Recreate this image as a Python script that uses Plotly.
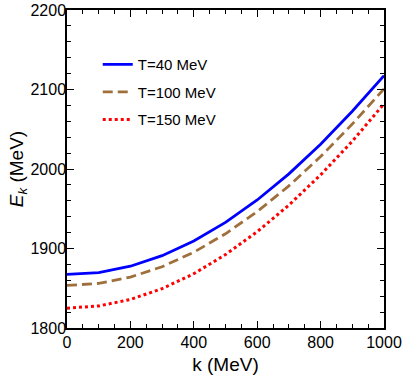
import plotly.graph_objects as go

k_vals = [0, 100, 200, 300, 400, 500, 600, 700, 800, 900, 1000]
E_T40 = [1867.5, 1869.7, 1877.7, 1891.0, 1909.4, 1932.8, 1961.0, 1993.9, 2031.2, 2072.6, 2117.5]
E_T100 = [1853.5, 1856.1, 1864.0, 1877.1, 1895.3, 1918.5, 1946.4, 1978.8, 2015.6, 2056.5, 2100.8]
E_T150 = [1825.0, 1827.7, 1835.9, 1849.5, 1868.3, 1892.3, 1921.1, 1954.6, 1992.6, 2034.9, 2082.0]
labels = ["T=40 MeV", "T=100 MeV", "T=150 MeV"]

FONT = "Liberation Sans, Arial, sans-serif"

fig = go.Figure()
fig.add_trace(go.Scatter(x=k_vals, y=E_T40, mode="lines", name=labels[0], legendgroup="a",
                         line=dict(color="#0000ff", width=2.8)))
fig.add_trace(go.Scatter(x=k_vals, y=E_T100, mode="lines", name=labels[1], legendgroup="b",
                         line=dict(color="#a0703c", width=2.8, dash="10px,5px")))
fig.add_trace(go.Scatter(x=k_vals, y=E_T150, mode="lines", name=labels[2], legendgroup="c",
                         line=dict(color="#ff0000", width=3, dash="3px,3px")))

axis_common = dict(
    showgrid=False, zeroline=False, showline=True, linecolor="black", linewidth=1.5,
    mirror="ticks", ticks="inside", ticklen=7, tickwidth=1, tickcolor="black",
    tickfont=dict(family=FONT, size=16, color="black"), automargin=False,
    ticklabeloverflow="allow",
)

fig.update_xaxes(range=[0, 1000], dtick=200, tick0=0,
                 minor=dict(dtick=50, ticks="inside", ticklen=4, tickcolor="black"),
                 title=dict(text="k (MeV)", font=dict(family=FONT, size=19, color="black"), standoff=8),
                 ticklabelstandoff=-1,
                 **axis_common)
fig.update_yaxes(range=[1800, 2200], dtick=100, tick0=1800,
                 minor=dict(dtick=20, ticks="inside", ticklen=4, tickcolor="black"),
                 title=dict(text="<i>E</i><sub><i>k</i></sub> (MeV)", font=dict(family=FONT, size=19, color="black"), standoff=0),
                 ticklabelstandoff=-4,
                 **axis_common)

fig.update_layout(
    width=403, height=381,
    margin=dict(l=67, r=19, t=10, b=53),
    paper_bgcolor="white", plot_bgcolor="white",
    showlegend=True,
    legend=dict(x=0.097, y=0.88, xanchor="left", yanchor="top",
                font=dict(family=FONT, size=15, color="black"),
                bgcolor="rgba(0,0,0,0)", traceorder="grouped", tracegroupgap=5,
                itemwidth=30),
)

fig.write_html("out.html", config={"displayModeBar": False},
               post_script="document.body.style.margin='0';document.body.style.overflow='hidden';")
